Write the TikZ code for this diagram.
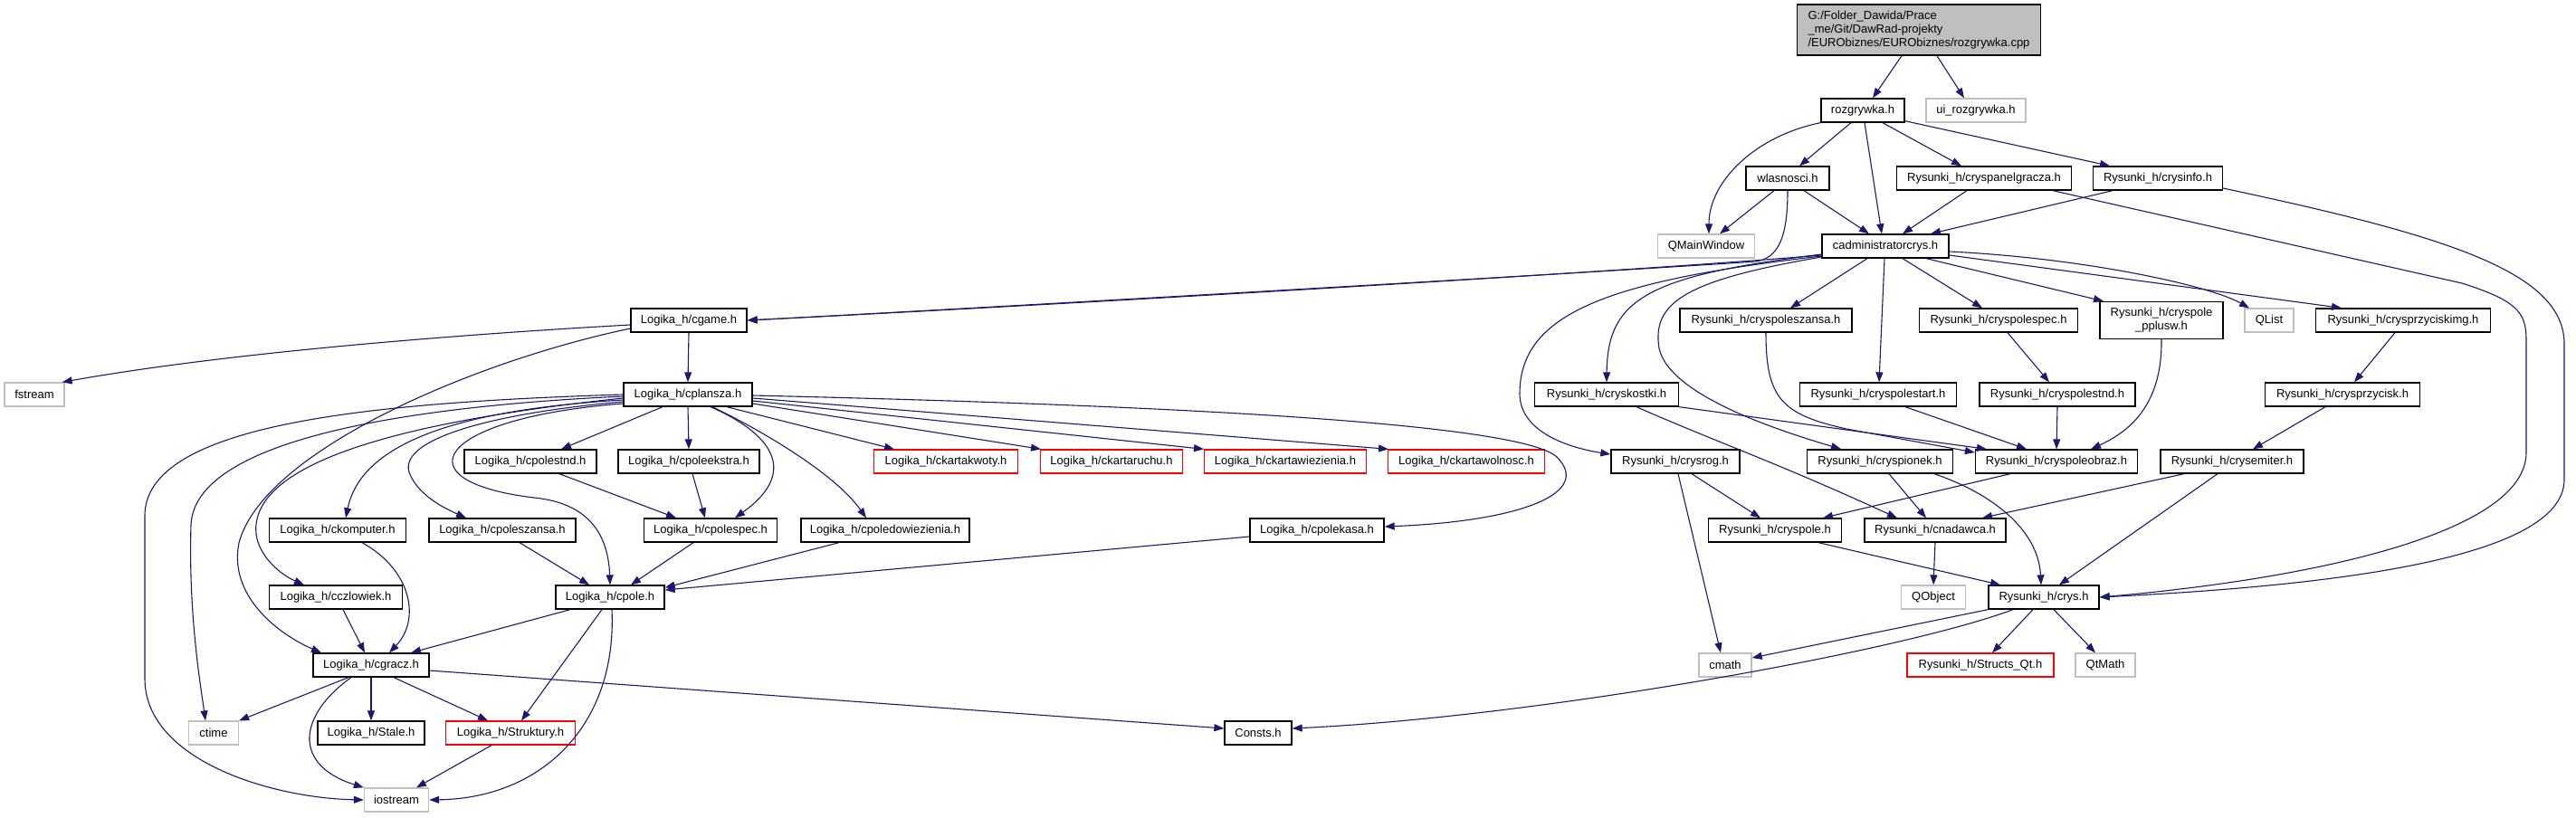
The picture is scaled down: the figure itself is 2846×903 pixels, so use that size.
\documentclass[tikz,border=0pt]{standalone}
\usepackage{fontspec}
\setmainfont{Liberation Sans}
\usetikzlibrary{arrows.meta}
\definecolor{edgec}{HTML}{191970}
\definecolor{greyc}{HTML}{BFBFBF}
\definecolor{redc}{HTML}{FF0000}
\definecolor{rootc}{HTML}{BFBFBF}
\newcommand\dfont{\fontsize{13}{15}\selectfont}
\begin{document}
\begin{tikzpicture}[x=1pt,y=-1pt,
 box/.style={draw, line width=1.3pt, minimum height=26pt, inner xsep=2pt, inner ysep=0pt, font=\dfont, text=black},
 nb/.style={box, draw=black},
 ng/.style={box, draw=greyc},
 nr/.style={box, draw=redc},
 e/.style={draw=edgec, line width=1.1pt, -{Triangle[length=11pt,width=8pt]}}]
\fill[white] (0,0) rectangle (2846,903);
\useasboundingbox (0,0) rectangle (2846,903);
% ---- nodes
\node[nb, fill=rootc, align=left, inner xsep=11pt, minimum width=269pt, minimum height=56pt] (root) at (2120,33) {G:/Folder\_Dawida/Prace\\\_me/Git/DawRad-projekty\\/EURObiznes/EURObiznes/rozgrywka.cpp};
\node[nb, minimum width=92pt] (rozg) at (2058,122) {rozgrywka.h};
\node[ng, minimum width=110pt] (ui) at (2183,122) {ui\_rozgrywka.h};
\node[nb, minimum width=92pt] (wlas) at (1975,197) {wlasnosci.h};
\node[nb, minimum width=193pt] (panel) at (2192,197) {Rysunki\_h/cryspanelgracza.h};
\node[nb, minimum width=143pt] (info) at (2384,197) {Rysunki\_h/crysinfo.h};
\node[ng, minimum width=107pt] (qmw) at (1885,272) {QMainWindow};
\node[nb, minimum width=140pt] (cadm) at (2083,272) {cadministratorcrys.h};
\node[nb, minimum width=128pt] (cgame) at (761,354) {Logika\_h/cgame.h};
\node[nb, minimum width=190pt] (cpsz) at (1951,354) {Rysunki\_h/cryspoleszansa.h};
\node[nb, minimum width=175pt] (cpsp) at (2208,354) {Rysunki\_h/cryspolespec.h};
\node[nb, align=center, minimum width=136pt, minimum height=41pt] (ppl) at (2388,354) {Rysunki\_h/cryspole\\\_pplusw.h};
\node[ng, minimum width=54pt] (qlist) at (2507,354) {QList};
\node[nb, minimum width=193pt] (cpimg) at (2655,354) {Rysunki\_h/crysprzyciskimg.h};
\node[ng, minimum width=66pt] (fstream) at (38,436) {fstream};
\node[nb, minimum width=142pt] (cplansza) at (760,436) {Logika\_h/cplansza.h};
\node[nb, minimum width=159pt] (ckostki) at (1775,436) {Rysunki\_h/cryskostki.h};
\node[nb, minimum width=173pt] (cpstart) at (2075,436) {Rysunki\_h/cryspolestart.h};
\node[nb, minimum width=172pt] (cpsnd) at (2273,436) {Rysunki\_h/cryspolestnd.h};
\node[nb, minimum width=171pt] (cprz) at (2588,436) {Rysunki\_h/crysprzycisk.h};
\node[nb, minimum width=146pt] (lcpolestnd) at (586,510) {Logika\_h/cpolestnd.h};
\node[nb, minimum width=156pt] (lekstra) at (761,510) {Logika\_h/cpoleekstra.h};
\node[nr, minimum width=159pt] (kwoty) at (1045,510) {Logika\_h/ckartakwoty.h};
\node[nr, minimum width=157pt] (ruchu) at (1228,510) {Logika\_h/ckartaruchu.h};
\node[nr, minimum width=179pt] (wiez) at (1420,510) {Logika\_h/ckartawiezienia.h};
\node[nr, minimum width=173pt] (wolnosc) at (1620,510) {Logika\_h/ckartawolnosc.h};
\node[nb, minimum width=142pt] (crysrog) at (1851,510) {Rysunki\_h/crysrog.h};
\node[nb, minimum width=161pt] (pionek) at (2077,510) {Rysunki\_h/cryspionek.h};
\node[nb, minimum width=179pt] (obraz) at (2272,510) {Rysunki\_h/cryspoleobraz.h};
\node[nb, minimum width=158pt] (emiter) at (2466,510) {Rysunki\_h/crysemiter.h};
\node[nb, minimum width=151pt] (ckomp) at (373,586) {Logika\_h/ckomputer.h};
\node[nb, minimum width=162pt] (lszansa) at (555,586) {Logika\_h/cpoleszansa.h};
\node[nb, minimum width=147pt] (lspec) at (785,586) {Logika\_h/cpolespec.h};
\node[nb, minimum width=186pt] (ldow) at (978,586) {Logika\_h/cpoledowiezienia.h};
\node[nb, minimum width=148pt] (lkasa) at (1455,586) {Logika\_h/cpolekasa.h};
\node[nb, minimum width=147pt] (cryspole) at (1961,586) {Rysunki\_h/cryspole.h};
\node[nb, minimum width=156pt] (nadawca) at (2138,586) {Rysunki\_h/cnadawca.h};
\node[nb, minimum width=147pt] (czlow) at (371,660) {Logika\_h/cczlowiek.h};
\node[nb, minimum width=120pt] (lpole) at (674,660) {Logika\_h/cpole.h};
\node[ng, minimum width=71pt] (qobj) at (2136,660) {QObject};
\node[nb, minimum width=122pt] (crys) at (2258,660) {Rysunki\_h/crys.h};
\node[nb, minimum width=128pt] (cgracz) at (410,735) {Logika\_h/cgracz.h};
\node[ng, minimum width=58pt] (cmath) at (1906,735) {cmath};
\node[nr, minimum width=162pt] (structs) at (2188,735) {Rysunki\_h/Structs\_Qt.h};
\node[ng, minimum width=66pt] (qtmath) at (2326,735) {QtMath};
\node[ng, minimum width=55pt] (ctime) at (236,810) {ctime};
\node[nb, minimum width=118pt] (stale) at (410,810) {Logika\_h/Stale.h};
\node[nr, minimum width=143pt] (strukt) at (564,810) {Logika\_h/Struktury.h};
\node[nb, minimum width=74pt] (consts) at (1390,810) {Consts.h};
\node[ng, minimum width=71pt] (iostream) at (438,884) {iostream};
% ---- edges (top part)
\draw[e] ([xshift=-19pt]root.south) -- ([xshift=11pt]rozg.north);
\draw[e] ([xshift=20pt]root.south) -- ([xshift=-13pt]ui.north);
\draw[e] (rozg.south west) .. controls (1940,150) and (1888,200) .. ([xshift=3pt]qmw.north);
\draw[e] ([xshift=-13pt]rozg.south) -- ([xshift=13pt]wlas.north);
\draw[e] ([xshift=2pt]rozg.south) -- ([xshift=-4pt]cadm.north);
\draw[e] ([xshift=22pt]rozg.south) -- ([xshift=-25pt]panel.north);
\draw[e] ([yshift=2pt]rozg.south east) -- ([xshift=-53pt]info.north);
\draw[e] ([xshift=-15pt]wlas.south) -- ([xshift=15pt]qmw.north);
\draw[e] ([xshift=18pt]wlas.south) -- ([xshift=-18pt]cadm.north);
\draw[e] (wlas.south) .. controls (1975,262) and (1965,285) .. (1940,289) .. controls (1700,305) and (1000,345) .. (cgame.east);
\draw[e] ([xshift=-19pt]panel.south) -- ([xshift=19pt]cadm.north);
\draw[e] ([xshift=-50pt]info.south) -- ([xshift=50pt]cadm.north);
\draw[e] ([xshift=76pt]panel.south) -- (2720,313) .. controls (2780,332) and (2791,345) .. (2791,375) -- (2791,500) .. controls (2791,590) and (2550,640) .. (crys.east);
\draw[e] ([yshift=-11pt]info.east) .. controls (2700,260) and (2833,300) .. (2833,380) -- (2833,530) .. controls (2833,620) and (2560,648) .. (crys.east);
\draw[e] ([yshift=-10pt]cadm.west) .. controls (1800,300) and (1200,335) .. (cgame.east);
\draw[e] ([xshift=-20pt]cadm.south) -- ([xshift=27pt]cpsz.north);
\draw[e] ([xshift=-1pt]cadm.south) -- ([xshift=1pt]cpstart.north);
\draw[e] ([xshift=19pt]cadm.south) -- ([xshift=-18pt]cpsp.north);
\draw[e] ([xshift=45pt]cadm.south) -- ([xshift=-64pt]ppl.north);
\draw[e] ([yshift=-6pt]cadm.east) .. controls (2300,285) and (2440,315) .. ([xshift=-22pt]qlist.north);
\draw[e] ([yshift=-10pt]cadm.east) -- ([xshift=-68pt]cpimg.north);
\draw[e] ([yshift=-9pt]cadm.west) .. controls (1820,305) and (1776,330) .. (ckostki.north);
\draw[e] ([yshift=-11pt]cadm.west) .. controls (1780,310) and (1679,345) .. (1679,435) .. controls (1679,480) and (1740,496) .. ([yshift=8pt]crysrog.west);
\draw[e] ([yshift=-12pt]cadm.west) .. controls (1860,310) and (1825,335) .. (1833,385) .. controls (1845,440) and (1980,480) .. ([xshift=-43pt]pionek.north);
% ---- edges (right middle)
\draw[e] (cpsz.south) .. controls (1951,440) and (1968,458) .. (2040,474) -- ([yshift=10pt]obraz.west);
\draw[e] (ckostki.south east) -- ([xshift=-77pt]obraz.north);
\draw[e] ([xshift=33pt]ckostki.south) .. controls (1900,490) and (1960,510) .. ([xshift=-42pt]nadawca.north);
\draw[e] ([xshift=30pt]cpstart.south) -- ([xshift=-33pt]obraz.north);
\draw[e] (cpsnd.south) -- (obraz.north);
\draw[e] (ppl.south) .. controls (2389,450) and (2350,478) .. ([xshift=38pt]obraz.north);
\draw[e] ([xshift=10pt]cpsp.south) -- ([xshift=-9pt]cpsnd.north);
\draw[e] ([xshift=-9pt]cpimg.south) -- ([xshift=13pt]cprz.north);
\draw[e] ([xshift=-19pt]cprz.south) -- ([xshift=23pt]emiter.north);
\draw[e] ([xshift=-53pt]emiter.south) -- ([xshift=52pt]nadawca.north);
\draw[e] ([xshift=-16pt]emiter.south) -- ([xshift=17pt]crys.north);
\draw[e] ([xshift=-51pt]obraz.south) -- ([xshift=53pt]cryspole.north);
\draw[e] ([xshift=18pt]crysrog.south) -- ([xshift=-16pt]cryspole.north);
\draw[e] ([xshift=3pt]crysrog.south) -- ([xshift=-5pt]cmath.north);
\draw[e] ([xshift=10pt]pionek.south) -- ([xshift=-10pt]nadawca.north);
\draw[e] ([xshift=60pt]pionek.south) .. controls (2200,545) and (2252,585) .. ([xshift=-3pt]crys.north);
\draw[e] ([xshift=48pt]cryspole.south) -- ([xshift=-48pt]crys.north);
\draw[e] (nadawca.south) -- (qobj.north);
\draw[e] (crys.south west) -- ([yshift=8pt]cmath.east);
\draw[e] ([xshift=-34pt]crys.south) .. controls (2100,720) and (1700,792) .. ([yshift=5pt]consts.east);
\draw[e] ([xshift=-12pt]crys.south) -- ([xshift=13pt]structs.north);
\draw[e] ([xshift=11pt]crys.south) -- ([xshift=-11pt]qtmath.north);
% ---- edges (left part)
\draw[e] ([yshift=-5pt]cgame.west) .. controls (500,370) and (250,390) .. ([xshift=-3pt]fstream.north east);
\draw[e] (cgame.south) -- (cplansza.north);
\draw[e] ([yshift=-9pt]cgame.west) .. controls (520,400) and (290,500) .. (264,600) .. controls (252,660) and (310,702) .. ([xshift=-55pt]cgracz.north);
\draw[e] ([xshift=-28pt]cplansza.south) -- ([xshift=34pt]lcpolestnd.north);
\draw[e] (cplansza.south) -- (lekstra.north);
\draw[e] ([xshift=25pt]cplansza.south) .. controls (850,478) and (885,520) .. ([xshift=27pt]lspec.north);
\draw[e] ([xshift=27pt]cplansza.south) .. controls (830,470) and (920,520) .. ([xshift=-21pt]ldow.north);
\draw[e] ([xshift=43pt]cplansza.south) -- ([xshift=-57pt]kwoty.north);
\draw[e] ([yshift=-10pt]cplansza.east) -- ([xshift=-78pt]ruchu.north);
\draw[e] ([yshift=-7pt]cplansza.east) -- ([xshift=-90pt]wiez.north);
\draw[e] ([yshift=-4pt]cplansza.east) -- ([xshift=-86pt]wolnosc.north);
\draw[e] ([yshift=-1pt]cplansza.east) .. controls (1300,448) and (1680,468) .. (1720,505) .. controls (1760,545) and (1680,576) .. ([yshift=4pt]lkasa.east);
\draw[e] ([yshift=-8pt]cplansza.west) .. controls (560,455) and (440,482) .. (452,522) .. controls (462,548) and (492,562) .. ([xshift=-40pt]lszansa.north);
\draw[e] ([yshift=-10pt]cplansza.west) .. controls (480,462) and (440,532) .. (590,550) .. controls (650,556) and (672,590) .. (lpole.north);
\draw[e] ([yshift=-6pt]cplansza.west) .. controls (520,452) and (400,485) .. ([xshift=9pt]ckomp.north);
\draw[e] ([yshift=-4pt]cplansza.west) .. controls (450,465) and (275,510) .. (283,590) .. controls (286,615) and (310,635) .. ([xshift=-35pt]czlow.north);
\draw[e] ([yshift=-2pt]cplansza.west) .. controls (430,450) and (215,490) .. (211,580) .. controls (208,680) and (222,760) .. ([xshift=-9pt]ctime.north);
\draw[e] (cplansza.west) .. controls (400,445) and (160,470) .. (160,570) -- (160,750) .. controls (160,840) and (300,882) .. (iostream.west);
\draw[e] ([xshift=27pt]ckomp.south) .. controls (455,630) and (465,685) .. ([xshift=20pt]cgracz.north);
\draw[e] ([xshift=8pt]czlow.south) -- ([xshift=-7pt]cgracz.north);
\draw[e] ([xshift=32pt]lcpolestnd.south) -- ([xshift=-38pt]lspec.north);
\draw[e] ([xshift=4pt]lekstra.south) -- ([xshift=-6pt]lspec.north);
\draw[e] ([xshift=19pt]lszansa.south) -- ([xshift=-23pt]lpole.north);
\draw[e] ([xshift=-19pt]lspec.south) -- ([xshift=23pt]lpole.north);
\draw[e] ([xshift=-51pt]ldow.south) -- ([yshift=-3pt]lpole.north east);
\draw[e] ([yshift=-7pt]lkasa.west) -- ([yshift=8pt]lpole.east);
\draw[e] ([xshift=-44pt]lpole.south) -- ([xshift=44pt]cgracz.north);
\draw[e] ([xshift=-9pt]lpole.south) -- ([xshift=12pt]strukt.north);
\draw[e] ([xshift=2pt]lpole.south) .. controls (682,800) and (600,882) .. (iostream.east);
\draw[e] ([xshift=-25pt]cgracz.south) -- (ctime.north east);
\draw[e] ([xshift=-22pt]cgracz.south) .. controls (330,790) and (322,845) .. (iostream.north west);
\draw[e] (cgracz.south) -- (stale.north);
\draw[e] ([xshift=25pt]cgracz.south) -- ([xshift=-25pt]strukt.north);
\draw[e] ([yshift=-6pt]cgracz.east) -- ([yshift=5pt]consts.west);
\draw[e] ([xshift=-21pt]strukt.south) -- ([xshift=22pt]iostream.north);
\end{tikzpicture}
\end{document}
